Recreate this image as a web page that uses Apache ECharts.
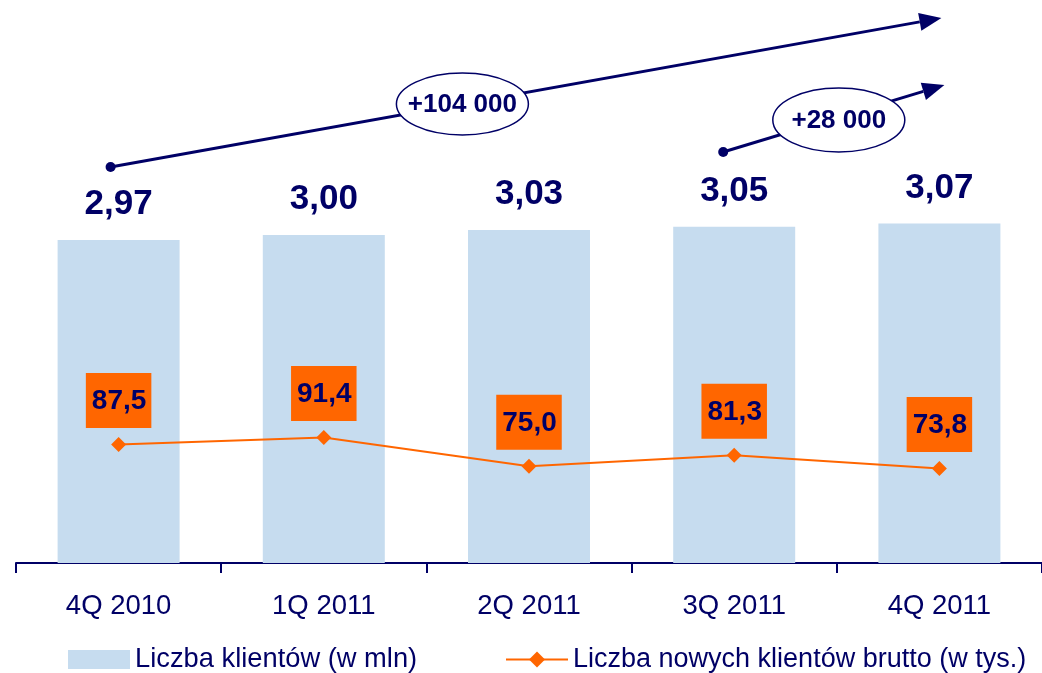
<!DOCTYPE html>
<html>
<head>
<meta charset="utf-8">
<script src="https://cdn.jsdelivr.net/npm/echarts@6/dist/echarts.min.js"></script>
<style>html,body{margin:0;padding:0;background:#fff}#c{width:1042px;height:673px}</style>
</head>
<body>
<div id="c"></div>
<script>
var categories = ['4Q 2010', '1Q 2011', '2Q 2011', '3Q 2011', '4Q 2011'];
var clients = [2.97, 3.00, 3.03, 3.05, 3.07];
var newClients = [87.5, 91.4, 75.0, 81.3, 73.8];
var barName = 'Liczba klientów (w mln)';
var lineName = 'Liczba nowych klientów brutto (w tys.)';
var growthLabels = ['+104 000', '+28 000'];

var NAVY = '#000066';
var FONT = '"Liberation Sans", Arial, sans-serif';
var chart = echarts.init(document.getElementById('c'));
function fmt(v, d) { return v.toFixed(d).replace('.', ','); }

chart.setOption({
  animation: false,
  textStyle: { fontFamily: FONT },
  grid: { left: 16, top: 71, width: 1031, height: 492 },
  legend: [
    { data: [{ name: barName, icon: 'rect' }], left: 63, top: 641, itemWidth: 62, itemHeight: 19, itemGap: 8,
      textStyle: { fontSize: 27.3, color: NAVY, fontFamily: FONT } },
    { data: [lineName], left: 500, top: 641, itemWidth: 62, itemHeight: 20,
      textStyle: { fontSize: 27, color: NAVY, fontFamily: FONT } }
  ],
  xAxis: {
    type: 'category', data: categories,
    axisLine: { lineStyle: { color: NAVY, width: 2 } },
    axisTick: { show: true, length: 10, lineStyle: { color: NAVY, width: 2 } },
    axisLabel: { fontSize: 27.5, color: NAVY, margin: 29, fontFamily: FONT }
  },
  yAxis: [
    { type: 'value', min: 1, max: 4, show: false, splitLine: { show: false } },
    { type: 'value', min: 20, max: 300, show: false, splitLine: { show: false } }
  ],
  series: [
    {
      name: barName, type: 'bar', data: clients, barWidth: 122,
      itemStyle: { color: '#c6dcef' },
      label: { show: true, position: 'top', distance: 18, fontSize: 35, fontWeight: 'bold',
        color: NAVY, fontFamily: FONT, formatter: function (p) { return fmt(p.value, 2); } }
    },
    {
      name: lineName, type: 'line', yAxisIndex: 1, data: newClients,
      symbol: 'diamond', symbolSize: 15,
      lineStyle: { color: '#ff6600', width: 2 },
      itemStyle: { color: '#ff6600' },
      label: { show: true, position: 'top', distance: 9, fontSize: 28, fontWeight: 'bold',
        color: NAVY, fontFamily: FONT, backgroundColor: '#ff6600', padding: [14, 5, 13, 6],
        formatter: function (p) { return fmt(p.value, 1); } }
    }
  ]
});

function cx(i) { return chart.convertToPixel({ xAxisIndex: 0 }, i); }
function arrow(x1, y1, x2, y2) {
  var ang = Math.atan2(y2 - y1, x2 - x1), L = 22, W = 9;
  var bx = x2 - L * Math.cos(ang), by = y2 - L * Math.sin(ang);
  var nx = -Math.sin(ang), ny = Math.cos(ang);
  return [
    { type: 'line', shape: { x1: x1, y1: y1, x2: bx, y2: by }, style: { stroke: NAVY, lineWidth: 3 } },
    { type: 'circle', shape: { cx: x1, cy: y1, r: 5 }, style: { fill: NAVY } },
    { type: 'polygon', shape: { points: [[x2, y2], [bx + nx * W, by + ny * W], [bx - nx * W, by - ny * W]] }, style: { fill: NAVY } }
  ];
}
function ellipse(x, y, rx, ry, text) {
  return [
    { type: 'ellipse', shape: { cx: x, cy: y, rx: rx, ry: ry }, style: { fill: '#fff', stroke: NAVY, lineWidth: 1.5 }, z: 10 },
    { type: 'text', x: x, y: y + 1, z: 11, style: { text: text, fill: NAVY, font: 'bold 26px ' + FONT, align: 'center', verticalAlign: 'middle' } }
  ];
}
var els = [];
els = els.concat(arrow(cx(0) - 8, 167, cx(4) + 2, 18));
els = els.concat(arrow(cx(3) - 11, 152, cx(4) + 5, 85));
els = els.concat(ellipse((cx(1) + cx(2)) / 2 + 36, 104, 66, 31, growthLabels[0]));
els = els.concat(ellipse((cx(3) + cx(4)) / 2 + 2, 120, 66, 32, growthLabels[1]));
chart.setOption({ graphic: els });
</script>
</body>
</html>
